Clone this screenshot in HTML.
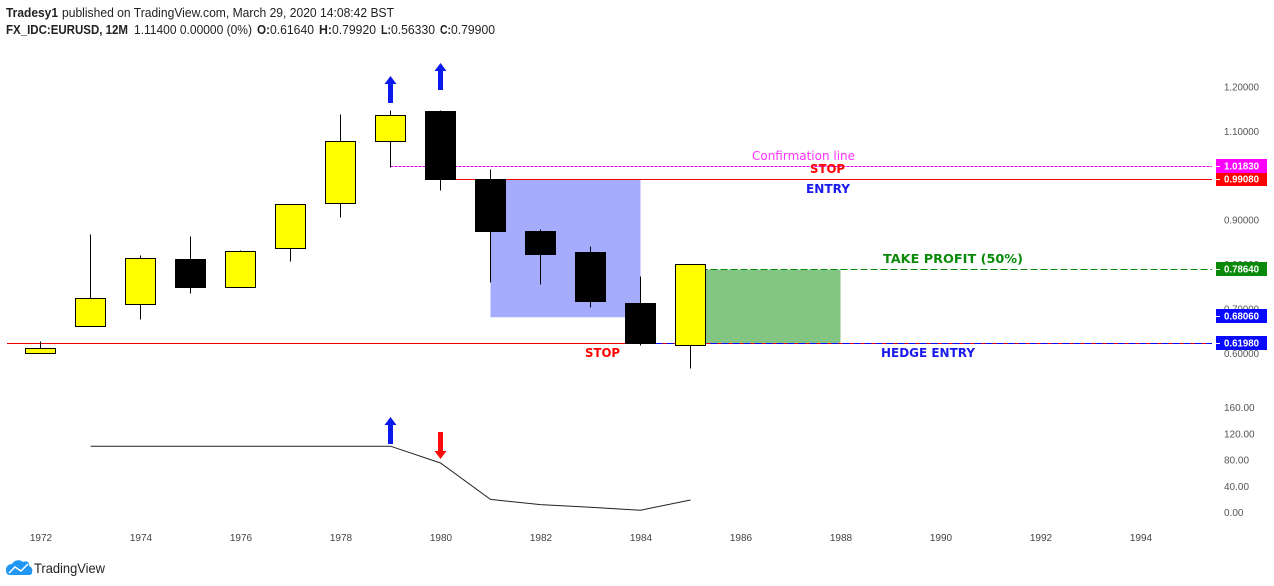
<!DOCTYPE html>
<html lang="en">
<head>
<meta charset="utf-8">
<title>FX_IDC:EURUSD 12M chart</title>
<style>
html,body{margin:0;padding:0;background:#fff;width:1274px;height:586px;overflow:hidden}
svg{display:block}
text{font-family:"Liberation Sans",sans-serif}
.anno{font-family:"DejaVu Sans","Liberation Sans",sans-serif;font-weight:bold;font-size:12px}
</style>
</head>
<body>
<svg id="chart" xmlns="http://www.w3.org/2000/svg" width="1274" height="586" viewBox="0 0 1274 586">
  <rect width="1274" height="586" fill="#ffffff"/>

  <g id="drawings-back"></g>
  <g id="candles"></g>
  <g id="price-axis"></g>
  <g id="price-tags"></g>
  <g id="osc-axis"></g>
  <g id="time-axis"></g>
  <path id="osc-line" fill="none" stroke="#222222" stroke-width="1"/>

  <g id="arrows"></g>

  <text x="752" y="160" font-size="12" fill="#ff33ff" textLength="103" lengthAdjust="spacingAndGlyphs" style='font-family:"DejaVu Sans",sans-serif'>Confirmation line</text>
  <text class="anno" x="810" y="173" fill="#ff0000" textLength="35" lengthAdjust="spacingAndGlyphs">STOP</text>
  <text class="anno" x="806" y="193" fill="#1a1aee" textLength="44" lengthAdjust="spacingAndGlyphs">ENTRY</text>
  <text class="anno" x="883" y="263" fill="#0a8a0a" textLength="140" lengthAdjust="spacingAndGlyphs">TAKE PROFIT (50%)</text>
  <text class="anno" x="881" y="357" fill="#1a1aee" textLength="94" lengthAdjust="spacingAndGlyphs">HEDGE ENTRY</text>
  <text class="anno" x="585" y="357" fill="#ff0000" textLength="35" lengthAdjust="spacingAndGlyphs">STOP</text>

  <g font-size="13" fill="#222222">
    <text x="6" y="17" font-weight="bold" textLength="52" lengthAdjust="spacingAndGlyphs">Tradesy1</text>
    <text x="62" y="17" textLength="332" lengthAdjust="spacingAndGlyphs">published on TradingView.com, March 29, 2020 14:08:42 BST</text>
    <text x="6" y="34" font-weight="bold" textLength="122" lengthAdjust="spacingAndGlyphs">FX_IDC:EURUSD, 12M</text>
    <text x="134" y="34" textLength="118" lengthAdjust="spacingAndGlyphs">1.11400 0.00000 (0%)</text>
    <text x="257" y="34" font-weight="bold" textLength="13" lengthAdjust="spacingAndGlyphs">O:</text>
    <text x="270" y="34" textLength="44" lengthAdjust="spacingAndGlyphs">0.61640</text>
    <text x="319" y="34" font-weight="bold" textLength="13" lengthAdjust="spacingAndGlyphs">H:</text>
    <text x="332" y="34" textLength="44" lengthAdjust="spacingAndGlyphs">0.79920</text>
    <text x="381" y="34" font-weight="bold" textLength="10" lengthAdjust="spacingAndGlyphs">L:</text>
    <text x="391" y="34" textLength="44" lengthAdjust="spacingAndGlyphs">0.56330</text>
    <text x="440" y="34" font-weight="bold" textLength="11" lengthAdjust="spacingAndGlyphs">C:</text>
    <text x="451" y="34" textLength="44" lengthAdjust="spacingAndGlyphs">0.79900</text>
  </g>

  <g>
    <path d="M6 570 C6 566 9 564 12 564 C14 560 20 559 23 562 C27 560 30 563 29 566 C32 567 33 570 32 572 C32 574 31 575 29 575 L10 575 C7 575 6 573 6 570 Z" fill="#2196f3"/>
    <path d="M9 573 L15 567 L21 571 L28 564" fill="none" stroke="#ffffff" stroke-width="1.5"/>
    <text x="34" y="573" font-size="14" fill="#222222" textLength="71" lengthAdjust="spacingAndGlyphs">TradingView</text>
  </g>

<script>
// ----- chart data -----
const years = [1972,1973,1974,1975,1976,1977,1978,1979,1980,1981,1982,1983,1984,1985];
const opens = [0.5982,0.6590,0.7086,0.8099,0.7468,0.8347,0.9360,1.0757,1.1432,0.9901,0.8730,0.8257,0.7108,0.6164];
const highs = [0.6241,0.8651,0.8178,0.8606,0.8313,0.9338,1.1354,1.1466,1.1466,1.0115,0.8764,0.8403,0.7705,0.7992];
const lows = [0.5982,0.6590,0.6759,0.7333,0.7468,0.8043,0.9056,1.0182,0.9664,0.7592,0.7525,0.7029,0.6151,0.5633];
const closes = [0.6095,0.7221,0.8122,0.7468,0.8279,0.9338,1.0757,1.1342,0.9901,0.8730,0.8212,0.7153,0.6207,0.7990];
const priceTicks = ["1.20000","1.10000","0.90000","0.80000","0.70000","0.60000"];
const oscTicks = ["160.00","120.00","80.00","40.00","0.00"];
const timeTicks = [1972,1974,1976,1978,1980,1982,1984,1986,1988,1990,1992,1994];
const oscYears = [1973,1974,1975,1976,1977,1978,1979,1980,1981,1982,1983,1984,1985];
const oscValues = [101,101,101,101,101,101,101,75.5,20,12,8,3.5,19];
const confirmationPrice = 1.0183;
const entryPrice = 0.9908;
const takeProfitPrice = 0.7864;
const hedgeStopPrice = 0.6806;
const hedgeEntryPrice = 0.6198;
const tagTexts = ["1.01830","0.99080","0.78640","0.68060","0.61980"];
const tagPrices = [1.0183,0.9908,0.7864,0.6806,0.6198];
const tagColors = ["#ff00ff","#ff0000","#0a8a0a","#0a0aff","#0a0aff"];

// ----- axis functions -----
function xOf(year){ return 40.5 + (year - 1972) * 50; }
function yOf(price){ return 86.3 + (1.2 - price) * 444; }
function oscY(v){ return 512.5 - v * 0.656; }
function snap(v){ return Math.round(v - 0.5) + 0.5; }

const NS = "http://www.w3.org/2000/svg";
function make(tag, parent, attrs){
  const el = document.createElementNS(NS, tag);
  for (const k in attrs) el.setAttribute(k, attrs[k]);
  parent.appendChild(el);
  return el;
}

// ----- drawings behind candles -----
const back = document.getElementById("drawings-back");
const blueBox = make("rect", back, {x:xOf(1981), y:snap(yOf(entryPrice)), width:xOf(1984)-xOf(1981), height:yOf(hedgeStopPrice)-yOf(entryPrice), fill:"#a6acfd"});


const greenBox = make("rect", back, {x:xOf(1985), y:snap(yOf(takeProfitPrice)), width:xOf(1988)-xOf(1985), height:yOf(hedgeEntryPrice)-yOf(takeProfitPrice), fill:"#83c583"});


const confirmLine = make("line", back, {x1:xOf(1979), x2:1212, y1:snap(yOf(confirmationPrice)), y2:snap(yOf(confirmationPrice)), stroke:"#f000f0", "stroke-dasharray":"3 1"});


const entryLine = make("line", back, {x1:xOf(1980), x2:1212, y1:snap(yOf(entryPrice)), y2:snap(yOf(entryPrice)), stroke:"#ee0000"});


const profitLine = make("line", back, {x1:xOf(1985), x2:1212, y1:snap(yOf(takeProfitPrice)), y2:snap(yOf(takeProfitPrice)), stroke:"#0a8a0a", "stroke-dasharray":"7 3"});


const stopLine = make("line", back, {x1:7, x2:1212, y1:snap(yOf(hedgeEntryPrice)), y2:snap(yOf(hedgeEntryPrice)), stroke:"#ee0000"});


const hedgeLine = make("line", back, {x1:xOf(1984)+15, x2:1212, y1:snap(yOf(hedgeEntryPrice)), y2:snap(yOf(hedgeEntryPrice)), stroke:"#0a0aff", "stroke-dasharray":"7 4"});



// ----- candles -----
const candleGroup = document.getElementById("candles");
years.forEach(function(year, i){
  const cx = xOf(year);
  const up = closes[i] >= opens[i];
  const top = snap(yOf(Math.max(opens[i], closes[i])));
  const bottom = snap(yOf(Math.min(opens[i], closes[i])));
  const wick = make("line", candleGroup, {x1:cx, x2:cx, y1:snap(yOf(highs[i])), y2:snap(yOf(lows[i])), stroke:"#000000"});
  
  
  const body = make("rect", candleGroup, {x:cx-15, y:top, width:30, height:Math.max(bottom-top,1), fill:up?"#ffff00":"#000000", stroke:"#000000", "stroke-width":1});
  
  
});

// ----- price axis -----
const priceAxis = document.getElementById("price-axis");
priceTicks.forEach(function(label){
  const t = make("text", priceAxis, {x:1224, y:yOf(parseFloat(label))+4.2, "font-size":10, fill:"#555555", textLength:35, lengthAdjust:"spacingAndGlyphs"});
  t.textContent = label;
  
  
});

// ----- price tags (last first so the upper tag overlaps the one below) -----
const tagGroup = document.getElementById("price-tags");
for (let i = tagTexts.length - 1; i >= 0; i--) {
  const cy = snap(yOf(tagPrices[i]));
  const top = cy - 7.5;
  const box = make("rect", tagGroup, {x:1216, y:top, width:51, height:14, fill:tagColors[i]});
  
  
  const tick = make("line", tagGroup, {x1:1216, x2:1220, y1:cy, y2:cy, stroke:"#ffffff"});
  
  
  const t = make("text", tagGroup, {x:1224, y:top+10.5, "font-size":10, "font-weight":"bold", fill:"#ffffff", textLength:35, lengthAdjust:"spacingAndGlyphs"});
  t.textContent = tagTexts[i];
  
  
}

// ----- oscillator axis -----
const oscAxis = document.getElementById("osc-axis");
oscTicks.forEach(function(label){
  const t = make("text", oscAxis, {x:1224, y:oscY(parseFloat(label))+3.5, "font-size":10, fill:"#555555"});
  t.textContent = label;
  
  
});

// ----- time axis -----
const timeAxis = document.getElementById("time-axis");
timeTicks.forEach(function(year){
  const t = make("text", timeAxis, {x:xOf(year)+0.5, y:541, "font-size":10, fill:"#444444", "text-anchor":"middle"});
  t.textContent = String(year);
  
  
});

// ----- oscillator line -----
document.getElementById("osc-line").setAttribute("d", oscYears.map(function(year, i){
  return (i ? "L" : "M") + xOf(year) + " " + oscY(oscValues[i]).toFixed(1);
}).join(" "));

// ----- arrow annotations -----
const arrowGroup = document.getElementById("arrows");
function upArrow(cx, top, bottom){
  return "M"+cx+" "+top+" L"+(cx+6)+" "+(top+8)+" L"+(cx+2.5)+" "+(top+8)+" L"+(cx+2.5)+" "+bottom+" L"+(cx-2.5)+" "+bottom+" L"+(cx-2.5)+" "+(top+8)+" L"+(cx-6)+" "+(top+8)+" Z";
}
function downArrow(cx, top, bottom){
  return "M"+cx+" "+bottom+" L"+(cx+6)+" "+(bottom-8)+" L"+(cx+2.5)+" "+(bottom-8)+" L"+(cx+2.5)+" "+top+" L"+(cx-2.5)+" "+top+" L"+(cx-2.5)+" "+(bottom-8)+" L"+(cx-6)+" "+(bottom-8)+" Z";
}
const arrowA = make("path", arrowGroup, {d:upArrow(xOf(1979),76,103), fill:"#0a1aee"});


const arrowB = make("path", arrowGroup, {d:upArrow(xOf(1980),63,90), fill:"#0a1aee"});


const arrowC = make("path", arrowGroup, {d:upArrow(xOf(1979),417,444), fill:"#0a1aee"});


const arrowD = make("path", arrowGroup, {d:downArrow(xOf(1980),432,459), fill:"#ff0a0a"});


</script>
</svg>
</body>
</html>
